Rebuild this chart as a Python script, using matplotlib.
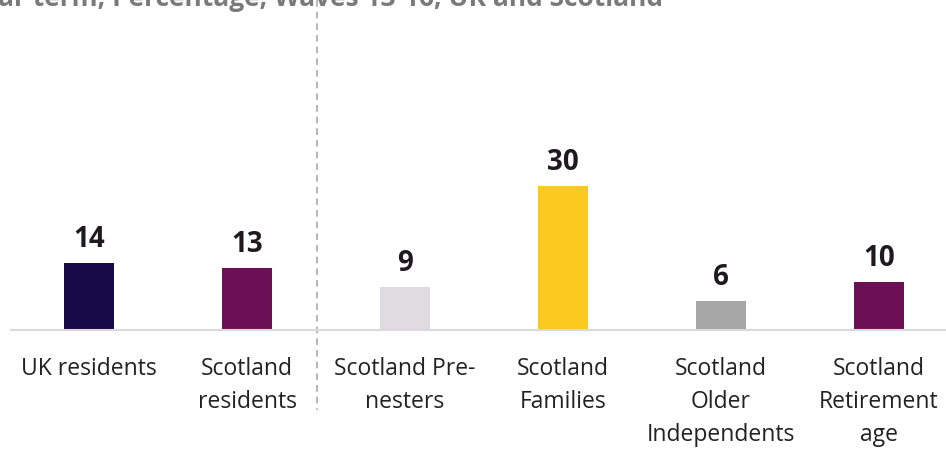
import matplotlib
matplotlib.use("Agg")
import matplotlib.pyplot as plt

# ── Data ────────────────────────────────────────────────────────────────
CATEGORIES = [
    "UK residents",
    "Scotland\nresidents",
    "Scotland Pre-\nnesters",
    "Scotland\nFamilies",
    "Scotland\nOlder\nIndependents",
    "Scotland\nRetirement\nage",
]
VALUES = [14, 13, 9, 30, 6, 10]
COLORS = ["#160A47", "#6D0F55", "#DEDCE0", "#FBC91F", "#A6A6A6", "#6D0F55"]
TITLE = "ar term, Percentage, Waves 13-16, UK and Scotland"

plt.rcParams["font.family"] = ["Open Sans", "DejaVu Sans"]

# ── Layout (pixels of a 946x450 canvas) ─────────────────────────────────
W, H = 946, 450
PX_PER_CAT = 158
PX_PER_UNIT = 4.8
BASE_Y = 330

fig = plt.figure(figsize=(W / 100, H / 100), dpi=100)
ax = fig.add_axes([11 / W, (H - BASE_Y) / H, 6 * PX_PER_CAT / W, BASE_Y / H])

x = list(range(len(VALUES)))
ax.bar(x, VALUES, width=50 / PX_PER_CAT, color=COLORS)
ax.set_xlim(-0.494, 5.506)
ax.set_ylim(0, BASE_Y / PX_PER_UNIT)

for xi, v in zip(x, VALUES):
    ax.text(xi, v + 16 / PX_PER_UNIT, str(v), ha="center", va="baseline",
            fontsize=20, fontweight="bold", color="#1E1A1E")

for xi, lab in zip(x, CATEGORIES):
    ax.text(xi, -27 / PX_PER_UNIT, lab, ha="center", va="top",
            fontsize=16.5, color="#222222", linespacing=1.5,
            clip_on=False)

# divider between UK-level and segment bars
ax.plot([1.443, 1.443], [BASE_Y / PX_PER_UNIT, -80 / PX_PER_UNIT],
        ls=(0, (4, 3)), color="#AAAAAA", lw=1.2, clip_on=False)

for s in ["top", "right", "left"]:
    ax.spines[s].set_visible(False)
ax.spines["bottom"].set_color("#DDD8E0")
ax.spines["bottom"].set_linewidth(1.5)
ax.set_xticks([])
ax.set_yticks([])

fig.text(-2 / W, 1 - 6 / H, TITLE, ha="left", va="baseline",
         fontsize=19, fontweight="bold", color="#7A7A7A")

fig.savefig("out.png", dpi=100)
